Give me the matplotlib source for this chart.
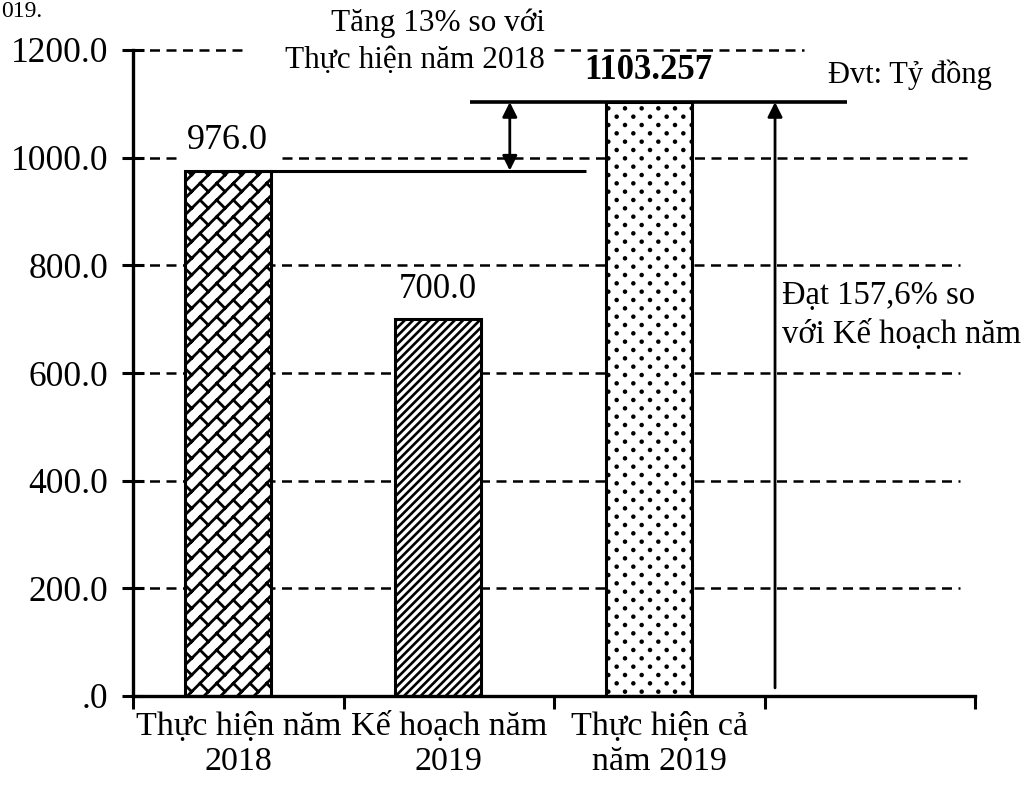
import warnings
warnings.filterwarnings("ignore")
import matplotlib
matplotlib.use("Agg")
import matplotlib.pyplot as plt
import matplotlib.hatch as mhatch
from matplotlib.path import Path
import numpy as np

plt.rcParams['font.family'] = ['Liberation Serif', 'DejaVu Serif']

categories = ["Thực hiện năm\n2018", "Kế hoạch năm\n2019", "Thực hiện cả\nnăm 2019"]
values = [976.0, 700.0, 1103.257]
value_labels = ["976.0", "700.0", "1103.257"]
yticks = [0, 200, 400, 600, 800, 1000, 1200]
ytick_labels = [".0", "200.0", "400.0", "600.0", "800.0", "1000.0", "1200.0"]
unit_text = "Đvt: Tỷ đồng"
note_increase = "Tăng 13% so với\nThực hiện năm 2018"
note_plan = "Đạt 157,6% so\nvới Kế hoạch năm"
cut_text = "019."


# ---- custom hatch patterns (diagonal brick 'b', staggered dots 'd') ----
class DiagonalBrickHatch(mhatch.HatchPatternBase):
    def __init__(self, hatch, density):
        n = hatch.count('b') * density
        self.n = n
        if n:
            n_lines = 2 * n + 1
            n_rows = 2 * n
            n_j = n + 4
            self.num_vertices = n_lines * 2 + n_rows * n_j * 2
        else:
            self.num_vertices = 0

    def set_vertices_and_codes(self, vertices, codes):
        n = self.n
        pts = []
        for k in range(-n, n + 1):
            a = k / n
            for b in (-0.2, 2.2):
                pts.append(((a + b) / 2, (b - a) / 2))
        for k in range(-n, n):
            a0, a1 = k / n, (k + 1) / n
            for j in range(-2, n + 2):
                d = (2 * j + (k % 2)) / n
                pts.append(((a0 + d) / 2, (d - a0) / 2))
                pts.append(((a1 + d) / 2, (d - a1) / 2))
        vertices[:] = np.array(pts)
        codes[0::2] = Path.MOVETO
        codes[1::2] = Path.LINETO


class StaggeredDotHatch(mhatch.HatchPatternBase):
    radius = 0.014

    def __init__(self, hatch, density):
        cnt = hatch.count('d')
        circ = Path.unit_circle()
        self.shape_vertices = circ.vertices
        self.shape_codes = circ.codes
        self.pos = []
        if cnt:
            ncol = cnt * density
            nrow = 2 * ncol
            for i in range(nrow + 1):
                y = i / nrow
                if i % 2 == 0:
                    xs = np.arange(ncol + 1) / ncol
                else:
                    xs = (np.arange(ncol) + 0.5) / ncol
                for xx in xs:
                    self.pos.append((xx, y))
        self.num_vertices = len(self.pos) * len(self.shape_vertices)

    def set_vertices_and_codes(self, vertices, codes):
        m = len(self.shape_vertices)
        sv = self.shape_vertices * self.radius
        cur = 0
        for (px, py) in self.pos:
            vertices[cur:cur + m] = sv + (px, py)
            codes[cur:cur + m] = self.shape_codes
            cur += m


mhatch._hatch_types.append(DiagonalBrickHatch)
mhatch._hatch_types.append(StaggeredDotHatch)

fig = plt.figure(figsize=(10.24, 7.89), dpi=100)
ax = fig.add_axes([133/1024, 1-696/789, (975-133)/1024, (696-50)/789])
ax.set_xlim(0, 4)
ax.set_ylim(0, 1200)

# gridlines (dashed, partially broken like the reference)
dash = (0, (4, 2.6))
glw = 1.8
for v in [200, 400, 600, 800]:
    ax.hlines(v, 0, 3.93, colors='black', linestyles=[dash], lw=glw, zorder=1)
ax.hlines(1000, 0, 0.23, colors='black', linestyles=[dash], lw=glw, zorder=1)
ax.hlines(1000, 0.71, 3.96, colors='black', linestyles=[dash], lw=glw, zorder=1)
ax.hlines(1200, 0, 0.54, colors='black', linestyles=[dash], lw=glw, zorder=1, clip_on=False)
ax.hlines(1200, 2.0, 3.19, colors='black', linestyles=[dash], lw=glw, zorder=1, clip_on=False)

hatches = ['b', '////', 'd']
hatch_lws = [2.0, 1.9, 1.2]
x = np.arange(len(categories))
bar_pos = x + 0.45
for i in range(len(categories)):
    plt.rcParams['hatch.linewidth'] = hatch_lws[i]
    b = ax.bar(bar_pos[i], values[i], width=0.41, color='white', edgecolor='black',
               lw=2.2, hatch=hatches[i], zorder=2)
    for p in b:
        try:
            p.set_hatch_linewidth(hatch_lws[i])
        except AttributeError:
            pass

# value labels
ax.text(bar_pos[0], values[0] + 25, value_labels[0], ha='center', va='bottom', fontsize=26)
ax.text(bar_pos[1], values[1] + 25, value_labels[1], ha='center', va='bottom', fontsize=25)
ax.text(bar_pos[2], values[2] + 28, value_labels[2], ha='center', va='bottom', fontsize=25,
        fontweight='bold')

# reference lines
ax.hlines(values[0], 0.42, 2.15, colors='black', lw=2.2, zorder=3)
ax.hlines(values[2], 1.60, 3.39, colors='black', lw=2.6, zorder=3)
ax.annotate('', xy=(1.79, values[2]), xytext=(1.79, values[0]),
            arrowprops=dict(arrowstyle='<|-|>', color='black', lw=2.0, mutation_scale=22,
                            shrinkA=0, shrinkB=0), zorder=4)
ax.annotate('', xy=(3.05, values[2]), xytext=(3.05, 15),
            arrowprops=dict(arrowstyle='-|>', color='black', lw=2.0, mutation_scale=22,
                            shrinkA=0, shrinkB=0), zorder=4)

# annotations
fig.text(545/1024, 1-8/789, note_increase, ha='right', va='top', fontsize=22.5, linespacing=1.4)
fig.text(910/1024, 1-75/789, unit_text, ha='center', va='center', fontsize=22)
fig.text(782/1024, 1-281/789, note_plan, ha='left', va='top', fontsize=23.5, linespacing=1.3)
fig.text(1/1024, 1-1/789, cut_text, ha='left', va='top', fontsize=17)

# axes styling
for s in ['top', 'right']:
    ax.spines[s].set_visible(False)
ax.spines['left'].set_linewidth(2.4)
ax.spines['bottom'].set_linewidth(2.4)
ax.set_yticks(yticks)
ax.set_yticklabels(ytick_labels, fontsize=25.5)
ax.tick_params(axis='y', direction='inout', length=16, width=2.2, pad=10)
ax.set_xticks(np.arange(0, 5))
ax.set_xticklabels([])
ax.tick_params(axis='x', which='major', direction='out', length=9, width=2.2)
ax.set_xticks(x + 0.5, minor=True)
ax.set_xticklabels(categories, minor=True, fontsize=24.5, linespacing=1.2)
ax.tick_params(axis='x', which='minor', length=0, pad=11)

fig.savefig('out.png', dpi=100)
